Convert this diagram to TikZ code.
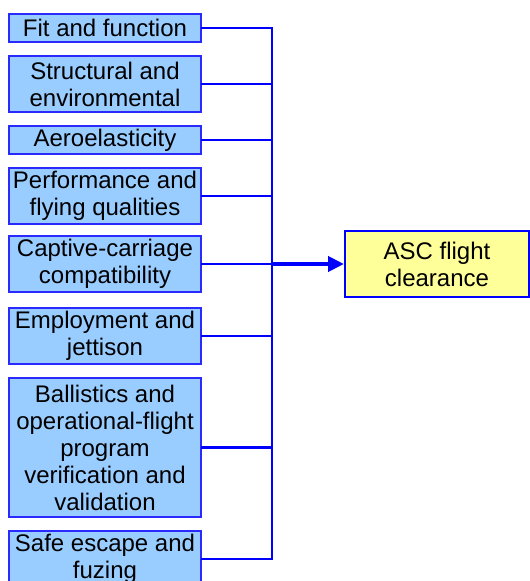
\documentclass[tikz,border=0pt]{standalone}
\usepackage{fontspec}
\setmainfont{Liberation Sans}
\usetikzlibrary{arrows.meta}
\definecolor{linkblue}{HTML}{0000FF}
\definecolor{edgeblue}{HTML}{2A2AFF}
\definecolor{boxfill}{HTML}{99CCFF}
\definecolor{goalfill}{HTML}{FFFF99}
\tikzset{
  area/.style={draw=edgeblue, line width=2pt, fill=boxfill, minimum width=192pt,
    inner sep=0pt, align=center, font=\fontsize{24}{27}\selectfont},
  goal/.style={draw=linkblue, line width=2pt, fill=goalfill, minimum width=184pt,
    minimum height=66pt, inner sep=0pt, align=center, font=\fontsize{24}{27}\selectfont},
  link/.style={draw=linkblue, line width=2.2pt},
  feed/.style={draw=linkblue, line width=4pt, -{Triangle[length=16pt,width=15pt]}}
}
\begin{document}
\begin{tikzpicture}[x=1pt,y=-1pt]
\useasboundingbox (0,0) rectangle (530,581);
% input areas
\node[area, minimum height=28pt]  (b1) at (105,28)    {Fit and function};
\node[area, minimum height=56pt]  (b2) at (105,84)    {Structural and\\environmental};
\node[area, minimum height=28pt]  (b3) at (105,140)   {Aeroelasticity};
\node[area, minimum height=56pt]  (b4) at (105,196)   {Performance and\\flying qualities};
\node[area, minimum height=56pt]  (b5) at (105,264)   {Captive-carriage\\compatibility};
\node[area, minimum height=56pt]  (b6) at (105,336)   {Employment and\\jettison};
\node[area, minimum height=139pt] (b7) at (105,447.5) {Ballistics and\\operational-flight\\program\\verification and\\validation};
\node[area, minimum height=56pt]  (b8) at (105,559)   {Safe escape and\\fuzing};
% outcome
\node[goal] (asc) at (437,264) {ASC flight\\clearance};
% collecting bus
\coordinate (bustop) at (272,28);
\coordinate (busbot) at (272,559);
\draw[link] (bustop) -- (busbot);
\foreach \b in {b1,b2,b3,b4,b5,b6,b7,b8}
  \draw[link, line cap=rect] (\b.east) -- (\b.east -| bustop);
\draw[feed] (asc.west -| bustop) -- (asc.west);
\end{tikzpicture}
\end{document}
